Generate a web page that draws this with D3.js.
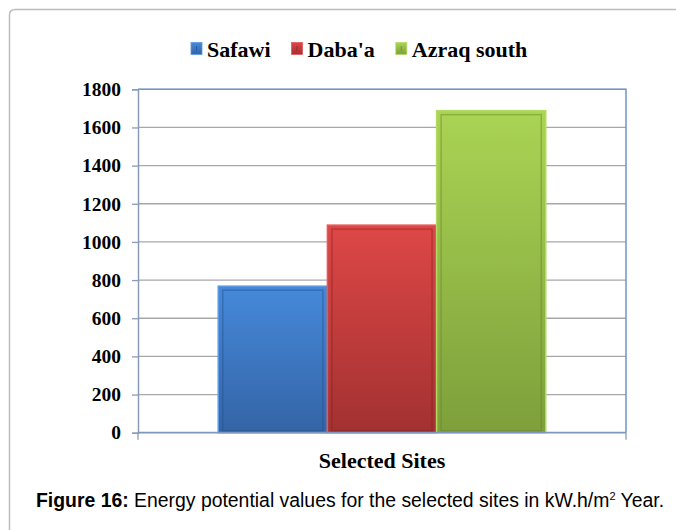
<!DOCTYPE html>
<html><head><meta charset="utf-8">
<script src="https://cdn.jsdelivr.net/npm/d3@7"></script>
<style>html,body{margin:0;padding:0;background:#fff;}svg{display:block;}</style>
</head><body>
<svg id="c" width="676" height="530"></svg>
<script>
const categories = ["Selected Sites"];
const seriesNames = ["Safawi", "Daba'a", "Azraq south"];
const seriesValues = [768, 1088, 1688];
const yTicks = [0, 200, 400, 600, 800, 1000, 1200, 1400, 1600, 1800];
const colors = [
  {top:"#4689da", bot:"#3464a6", edge:"#5a9ae4", inner:"#24508c"},
  {top:"#de4747", bot:"#a33131", edge:"#e45a5a", inner:"#862424"},
  {top:"#aad454", bot:"#7e9f3b", edge:"#b3da60", inner:"#66852c"}
];

const svg = d3.select("#c");
const serif = "'Liberation Serif','Times New Roman',serif";
const sans = "'Liberation Sans',Arial,sans-serif";

// outer frame
svg.append("path")
  .attr("d", "M9.5,530 L9.5,15 Q9.5,9.5 15,9.5 L676,9.5")
  .attr("fill", "none").attr("stroke", "#bdbdbd").attr("stroke-width", 1.5);

const L = 138, R = 626, T = 89.3, B = 432.7;
const y = d3.scaleLinear().domain([0, 1800]).range([B, T]);
const x0 = d3.scaleBand().domain(categories).range([L, R]).paddingInner(0).paddingOuter(0.245);
const x1 = d3.scaleBand().domain(seriesNames).range([0, x0.bandwidth()]).padding(0);

const defs = svg.append("defs");
colors.forEach((c, i) => {
  const g = defs.append("linearGradient").attr("id", "g" + i)
    .attr("x1", 0).attr("y1", 0).attr("x2", 0).attr("y2", 1);
  g.append("stop").attr("offset", "0%").attr("stop-color", c.top);
  g.append("stop").attr("offset", "100%").attr("stop-color", c.bot);
});

// gridlines
svg.append("g").selectAll("line").data(yTicks.filter(t => t > 0)).join("line")
  .attr("x1", L).attr("x2", R).attr("y1", d => y(d)).attr("y2", d => y(d))
  .attr("stroke", "#a8a8a8").attr("stroke-width", 1.3);

// plot border top & right
svg.append("path").attr("d", `M${L},${T} L${R},${T} L${R},${B}`)
  .attr("fill", "none").attr("stroke", "#6f95cc").attr("stroke-width", 1.5);

// bars
const bars = svg.append("g").selectAll("g").data(seriesValues).join("g");
bars.append("rect")
  .attr("x", (d, i) => x0(categories[0]) + x1(seriesNames[i]))
  .attr("width", x1.bandwidth())
  .attr("y", d => y(d)).attr("height", d => B - y(d))
  .attr("fill", (d, i) => `url(#g${i})`)
  .attr("stroke", (d, i) => colors[i].edge).attr("stroke-width", 1.5);
bars.append("rect")
  .attr("x", (d, i) => x0(categories[0]) + x1(seriesNames[i]) + 4.5)
  .attr("width", x1.bandwidth() - 9)
  .attr("y", d => y(d) + 4).attr("height", d => B - y(d) - 6)
  .attr("fill", "none")
  .attr("stroke", (d, i) => colors[i].inner).attr("stroke-width", 1.5).attr("stroke-opacity", 0.45);

// y axis
const yAxis = d3.axisLeft(y).tickValues(yTicks).tickSize(6).tickPadding(11).tickFormat(d3.format("d"));
const ya = svg.append("g").attr("transform", `translate(${L},0)`).call(yAxis);
ya.select(".domain").attr("stroke", "#8a9bb8").attr("stroke-width", 1.5);
ya.selectAll(".tick line").attr("stroke", "#8a9bb8").attr("stroke-width", 1.3);
ya.selectAll("text").attr("font-family", serif).attr("font-weight", "bold")
  .attr("font-size", "19.5px").attr("fill", "#000");

// x axis
const xa = svg.append("g").attr("transform", `translate(0,${B})`);
xa.append("line").attr("x1", L).attr("x2", R).attr("stroke", "#7f97bf").attr("stroke-width", 1.8);
xa.selectAll("line.t").data([L, R]).join("line").attr("class", "t")
  .attr("x1", d => d).attr("x2", d => d).attr("y1", 0).attr("y2", 7)
  .attr("stroke", "#8a9bb8").attr("stroke-width", 1.3);
svg.append("text").attr("x", x0(categories[0]) + x0.bandwidth() / 2).attr("y", 468)
  .attr("text-anchor", "middle").attr("font-family", serif).attr("font-weight", "bold")
  .attr("font-size", "22px").text(categories[0]);

// legend
let lx = 191;
seriesNames.forEach((s, i) => {
  const g = svg.append("g");
  g.append("rect").attr("x", lx).attr("y", 42.5).attr("width", 11).attr("height", 12)
    .attr("fill", `url(#g${i})`).attr("stroke", colors[i].edge).attr("stroke-width", 0.8);
  g.append("line").attr("x1", lx + 5.5).attr("x2", lx + 5.5).attr("y1", 46).attr("y2", 51)
    .attr("stroke", colors[i].inner).attr("stroke-width", 1).attr("stroke-opacity", 0.7);
  const t = g.append("text").attr("x", lx + 16).attr("y", 57)
    .attr("font-family", serif).attr("font-weight", "bold").attr("font-size", "22px").text(s);
  lx += 16 + t.node().getComputedTextLength() + 21;
});

// caption
const cap = svg.append("text").attr("x", 36).attr("y", 507)
  .attr("font-family", sans).attr("font-size", "19.4px").attr("fill", "#000");
cap.append("tspan").attr("font-weight", "bold").text("Figure 16:");
cap.append("tspan").text(" Energy potential values for the selected sites in kW.h/m");
cap.append("tspan").attr("font-size", "11px").attr("dy", -7).text("2");
cap.append("tspan").attr("dy", 7).text(" Year.");
</script>
</body></html>
